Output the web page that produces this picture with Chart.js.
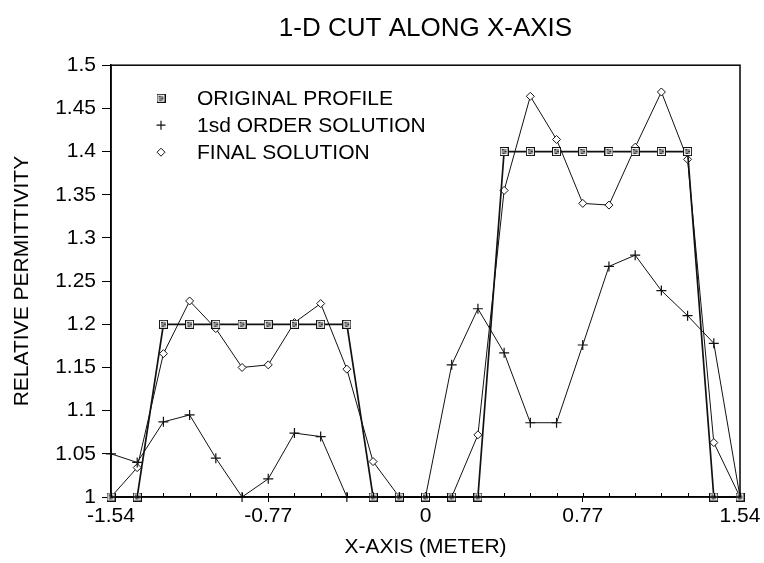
<!DOCTYPE html>
<html>
<head>
<meta charset="utf-8">
<script src="https://cdn.jsdelivr.net/npm/chart.js@4.4.1/dist/chart.umd.min.js"></script>
<style>
  html, body { margin: 0; padding: 0; background: #fff; }
  canvas { display: block; }
</style>
</head>
<body>
<canvas id="cut" width="764" height="563"></canvas>
<script>
// Sample positions along the x-axis (metres)
const X_POS = [-1.54, -1.4117, -1.2833, -1.155, -1.0267, -0.8983, -0.77, -0.6417, -0.5133,
  -0.385, -0.2567, -0.1283, 0, 0.1283, 0.2567, 0.385, 0.5133, 0.6417, 0.77, 0.8983,
  1.0267, 1.155, 1.2833, 1.4117, 1.54];

// Relative permittivity at each sample
const ORIGINAL_PROFILE = [1, 1, 1.2, 1.2, 1.2, 1.2, 1.2, 1.2, 1.2, 1.2, 1, 1, 1, 1, 1,
  1.4, 1.4, 1.4, 1.4, 1.4, 1.4, 1.4, 1.4, 1, 1];
const FIRST_ORDER = [1.05, 1.04, 1.087, 1.095, 1.045, 1.0, 1.021, 1.074, 1.07, 1.0, 1.0, 1.0,
  1.0, 1.153, 1.218, 1.167, 1.086, 1.086, 1.176, 1.267, 1.28, 1.239, 1.21, 1.178, 1.0];
const FINAL_SOLUTION = [1.0, 1.034, 1.166, 1.227, 1.195, 1.15, 1.153, 1.202, 1.224, 1.148,
  1.041, 1.0, 1.0, 1.0, 1.072, 1.355, 1.464, 1.414, 1.34, 1.338, 1.405, 1.469, 1.391, 1.063, 1.0];

const SERIES_NAMES = ['ORIGINAL PROFILE', '1sd ORDER SOLUTION', 'FINAL SOLUTION'];
const X_TICKS = [-1.54, -0.77, 0, 0.77, 1.54];
const Y_TICKS = [1, 1.05, 1.1, 1.15, 1.2, 1.25, 1.3, 1.35, 1.4, 1.45, 1.5];

const FONT = "'Liberation Sans', Arial, Helvetica, sans-serif";
Chart.defaults.font.family = FONT;
Chart.defaults.color = '#000';

// Small hatched square used as the profile marker
function squareMarker() {
  const c = document.createElement('canvas');
  c.width = 9; c.height = 9;
  const g = c.getContext('2d');
  g.fillStyle = '#fff'; g.fillRect(0, 0, 9, 9);
  g.strokeStyle = '#111'; g.lineWidth = 1; g.strokeRect(0.5, 0.5, 8, 8);
  g.fillStyle = '#8c8c8c'; g.fillRect(2, 2, 5, 5);
  g.fillStyle = '#2a2a2a';
  g.fillRect(2, 2, 2, 1); g.fillRect(5, 4, 2, 1); g.fillRect(3, 6, 2, 1);
  return c;
}

const toPoints = arr => X_POS.map((x, i) => ({ x: x, y: arr[i] }));

const datasets = [
  {
    label: SERIES_NAMES[0], data: toPoints(ORIGINAL_PROFILE),
    borderColor: '#111', borderWidth: 1.7, clip: false,
    pointStyle: squareMarker(), pointRadius: 4.5,
    pointBackgroundColor: '#fff', pointBorderColor: '#111'
  },
  {
    label: SERIES_NAMES[1], data: toPoints(FIRST_ORDER),
    borderColor: '#111', borderWidth: 1, clip: false,
    pointStyle: 'cross', pointRadius: 5, pointBorderWidth: 1.2,
    pointBackgroundColor: '#111', pointBorderColor: '#111'
  },
  {
    label: SERIES_NAMES[2], data: toPoints(FINAL_SOLUTION),
    borderColor: '#111', borderWidth: 1, clip: false,
    pointStyle: 'rectRot', pointRadius: 4, pointBorderWidth: 1,
    pointBackgroundColor: '#fff', pointBorderColor: '#111'
  }
];

// Legend drawn inside the plot, upper left
const insideLegend = {
  id: 'insideLegend',
  afterDatasetsDraw(chart) {
    const { ctx, chartArea: a } = chart;
    ctx.save();
    chart.data.datasets.forEach((ds, i) => {
      const mx = a.left + 50, my = a.top + 33 + i * 27;
      ctx.fillStyle = ds.pointBackgroundColor;
      ctx.strokeStyle = ds.pointBorderColor;
      ctx.lineWidth = ds.pointBorderWidth || 1;
      Chart.helpers.drawPoint(ctx, {
        pointStyle: ds.pointStyle, radius: ds.pointStyle === 'cross' ? 4.5 : 4,
        borderWidth: ds.pointBorderWidth || 1, rotation: 0
      }, mx, my);
      ctx.fillStyle = '#000';
      ctx.font = '21px ' + FONT;
      ctx.textAlign = 'left';
      ctx.textBaseline = 'middle';
      ctx.fillText(ds.label, a.left + 86, my + 1);
    });
    ctx.restore();
  }
};

// Box around the plot and small inward ticks at each sample position
const frame = {
  id: 'frame',
  afterDraw(chart) {
    const { ctx, chartArea: a, scales } = chart;
    ctx.save();
    ctx.strokeStyle = '#000';
    ctx.lineWidth = 1.5;
    ctx.strokeRect(a.left, a.top, a.right - a.left, a.bottom - a.top);
    ctx.lineWidth = 1;
    ctx.beginPath();
    X_POS.forEach(x => {
      const px = Math.round(scales.x.getPixelForValue(x)) + 0.5;
      ctx.moveTo(px, a.bottom);
      ctx.lineTo(px, a.bottom - 4);
    });
    ctx.stroke();
    ctx.restore();
  }
};

new Chart(document.getElementById('cut'), {
  type: 'line',
  data: { datasets: datasets },
  plugins: [frame, insideLegend],
  options: {
    responsive: false,
    animation: false,
    devicePixelRatio: 1,
    layout: { padding: { left: 0, right: 24, top: 0, bottom: 0 } },
    elements: { line: { tension: 0, fill: false } },
    plugins: {
      legend: { display: false },
      tooltip: { enabled: false },
      title: {
        display: true, text: '1-D CUT ALONG X-AXIS', color: '#000', fullSize: false,
        font: { size: 26, weight: 'normal', family: FONT },
        padding: { top: 13, bottom: 21 }
      }
    },
    scales: {
      x: {
        type: 'linear', min: -1.54, max: 1.54,
        afterBuildTicks: s => { s.ticks = X_TICKS.map(v => ({ value: v })); },
        afterFit: s => { s.height = 66; },
        grid: { drawOnChartArea: false, drawTicks: true, tickLength: 5, color: '#000', lineWidth: 1 },
        border: { display: true, color: '#000', width: 1.5 },
        ticks: { font: { size: 21 }, padding: 2, color: '#000', maxRotation: 0, callback: v => String(v) },
        title: { display: true, text: 'X-AXIS (METER)', color: '#000', font: { size: 21 }, padding: { top: 0, bottom: 3 } }
      },
      y: {
        type: 'linear', min: 1, max: 1.5,
        afterBuildTicks: s => { s.ticks = Y_TICKS.map(v => ({ value: v })); },
        afterFit: s => { s.width = 111; },
        grid: { drawOnChartArea: false, drawTicks: true, tickLength: 9, color: '#000', lineWidth: 1 },
        border: { display: true, color: '#000', width: 1.5 },
        ticks: { font: { size: 21 }, padding: 6, color: '#000', callback: v => String(Number(v.toFixed(2))) },
        title: { display: true, text: 'RELATIVE PERMITTIVITY', color: '#000', font: { size: 21 }, padding: { top: 10, bottom: 0 } }
      }
    }
  }
});
</script>
</body>
</html>
